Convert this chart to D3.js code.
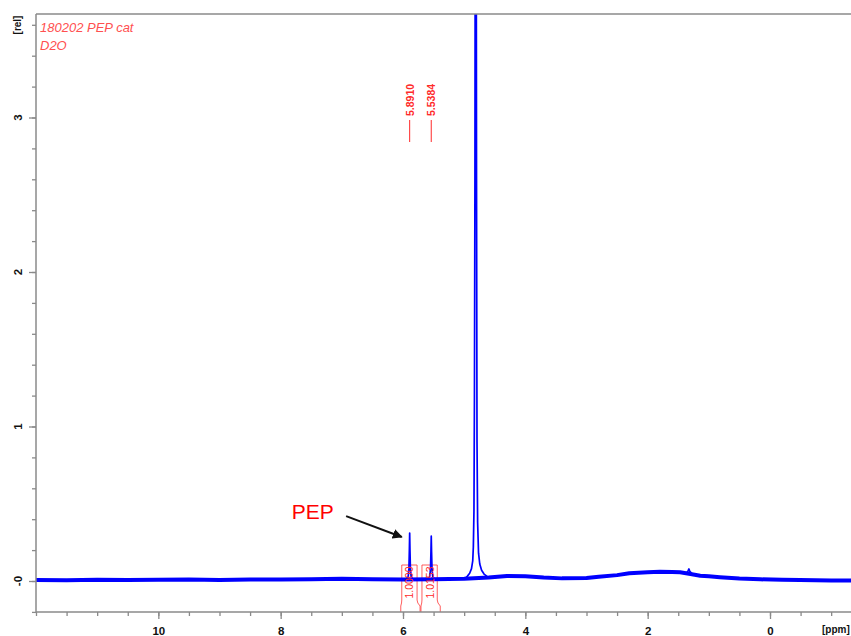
<!DOCTYPE html>
<html>
<head>
<meta charset="utf-8">
<script src="https://cdn.jsdelivr.net/npm/d3@7"></script>
<style>
  html, body { margin: 0; padding: 0; background: #fff; overflow: hidden; }
  svg { display: block; font-family: "Liberation Sans", Arial, sans-serif; }
</style>
</head>
<body>
<svg id="chart" width="851" height="636"></svg>
<script>
// ---- 1H NMR spectrum, 180202 PEP cat in D2O ----

// Baseline (broad background) of the spectrum, ppm / relative intensity
const baselinePpm = [12.2, 11.5, 11.0, 10.5, 10.0, 9.5, 9.0, 8.5, 8.0, 7.5, 7.0, 6.5, 6.0, 5.5, 5.0,
                     4.6, 4.3, 4.0, 3.7, 3.4, 3.0, 2.8, 2.5, 2.3, 2.0, 1.8, 1.6, 1.47, 1.3, 1.14,
                     1.0, 0.82, 0.5, 0.16, -0.2, -0.49, -1.0, -1.6];
const baselineRel = [0.006, 0.005, 0.008, 0.006, 0.008, 0.010, 0.007, 0.009, 0.010, 0.012, 0.015, 0.012, 0.010, 0.012, 0.014,
                     0.022, 0.032, 0.030, 0.022, 0.017, 0.020, 0.028, 0.038, 0.050, 0.057, 0.060, 0.058, 0.056, 0.045, 0.034,
                     0.030, 0.024, 0.016, 0.011, 0.008, 0.006, 0.004, 0.002];

// HOD solvent signal (runs off the top of the plot)
const waterPpm = [4.99, 4.95, 4.91, 4.88, 4.86, 4.85, 4.84, 4.832, 4.824, 4.816, 4.806, 4.798, 4.79, 4.78, 4.765, 4.745, 4.715, 4.675, 4.62];
const waterRel = [0.016, 0.030, 0.050, 0.080, 0.130, 0.220, 0.450, 1.200, 2.600, 5.500, 5.500, 2.600, 0.900, 0.380, 0.180, 0.110, 0.070, 0.045, 0.028];

// PEP vinyl protons
const pep1Ppm = [5.94, 5.915, 5.903, 5.896, 5.891, 5.886, 5.879, 5.867, 5.84];
const pep1Rel = [0.012, 0.030, 0.080, 0.200, 0.310, 0.200, 0.080, 0.030, 0.012];
const pep2Ppm = [5.585, 5.562, 5.550, 5.543, 5.538, 5.533, 5.526, 5.514, 5.49];
const pep2Rel = [0.013, 0.030, 0.080, 0.190, 0.290, 0.190, 0.080, 0.030, 0.014];

// Small signal on the broad hump
const minorPpm = [1.37, 1.34, 1.325, 1.31, 1.28];
const minorRel = [0.050, 0.065, 0.078, 0.062, 0.050];

// Peak picking and integration
const peakPpm = [5.8910, 5.5384];
const integralFrom = [6.02, 5.69];
const integralTo = [5.77, 5.44];
const integralValues = [1.0000, 1.0153];

// Axis ticks
const xMajorTicks = [10, 8, 6, 4, 2, 0];
const xMinorTicks = d3.range(24, -4, -1).map(k => k / 2);
const yMajorTicks = [0, 1, 2, 3];
const yTickLabels = ["-0", "1", "2", "3"];
const yMinorTicks = d3.range(-1, 19).map(k => k / 5);

(function draw() {
  const svg = d3.select("#chart");
  const plotLeft = 36, plotTop = 14, plotBottom = 612, plotRight = 870;

  const x = d3.scaleLinear().domain([12, 0]).range([plotLeft, 770]);
  const y = d3.scaleLinear().domain([0, 3]).range([581, 117.5]);

  const axisColor = "#8a8a8a";
  const blue = "#0000ff";
  const red = "#ff2a2a";

  const defs = svg.append("defs");
  defs.append("clipPath").attr("id", "plot")
    .append("rect").attr("x", plotLeft).attr("y", plotTop)
    .attr("width", plotRight - plotLeft).attr("height", plotBottom - plotTop);
  defs.append("marker").attr("id", "arrow")
    .attr("viewBox", "0 0 10 10").attr("refX", 9).attr("refY", 5)
    .attr("markerWidth", 5).attr("markerHeight", 5).attr("orient", "auto")
    .append("path").attr("d", "M0,0 L10,5 L0,10 z").attr("fill", "#111");

  // integral brackets, drawn behind the trace
  const integ = svg.append("g").attr("fill", "none").attr("stroke", red)
    .attr("stroke-width", 1).attr("stroke-opacity", 0.75);
  const boxTop = 565, boxBot = 600;
  integralFrom.forEach((p0, i) => {
    const x0 = x(p0), x1 = x(integralTo[i]);
    integ.append("path").attr("d",
      `M${x0 - 1},${plotBottom} L${x0 - 1},${boxBot + 6} Q${x0},${boxBot + 3} ${x0},${boxBot}` +
      ` L${x0},${boxTop} L${x1},${boxTop} L${x1},${boxBot}` +
      ` Q${x1},${boxBot + 3} ${x1 + 3},${boxBot + 6} L${x1 + 3},${plotBottom}`);
  });

  // spectrum trace
  const line = d3.line().x(d => x(d[0])).y(d => y(d[1]));
  const pairs = (p, r) => p.map((v, i) => [v, r[i]]);
  const traceG = svg.append("g").attr("clip-path", "url(#plot)")
    .attr("fill", "none").attr("stroke", blue).attr("stroke-linejoin", "round");

  traceG.append("path").datum(pairs(baselinePpm, baselineRel))
    .attr("d", line).attr("stroke-width", 4);

  [[waterPpm, waterRel], [pep1Ppm, pep1Rel], [pep2Ppm, pep2Rel], [minorPpm, minorRel]]
    .forEach(([p, r]) => {
      traceG.append("path").datum(pairs(p, r)).attr("d", line).attr("stroke-width", 1.7);
    });

  // integral values, on top of the trace
  integralFrom.forEach((p0, i) => {
    const x0 = x(p0), x1 = x(integralTo[i]);
    const cx = (x0 + x1) / 2, cy = (boxTop + boxBot) / 2;
    svg.append("text")
      .attr("x", cx).attr("y", cy)
      .attr("transform", `rotate(-90,${cx},${cy})`)
      .attr("text-anchor", "middle").attr("dominant-baseline", "central")
      .attr("font-size", 10.5).attr("fill", red)
      .text(integralValues[i].toFixed(4));
  });

  // frame
  const frame = svg.append("g").attr("stroke", axisColor).attr("stroke-width", 1.5);
  frame.append("line").attr("x1", plotLeft).attr("x2", 851).attr("y1", plotTop).attr("y2", plotTop);
  frame.append("line").attr("x1", plotLeft).attr("x2", plotLeft).attr("y1", plotTop).attr("y2", plotBottom);
  frame.append("line").attr("x1", plotLeft).attr("x2", 851).attr("y1", plotBottom).attr("y2", plotBottom);

  // x axis
  const gxMinor = svg.append("g").attr("transform", `translate(0,${plotBottom})`)
    .call(d3.axisBottom(x).tickValues(xMinorTicks).tickSize(4).tickFormat(""));
  const gxMajor = svg.append("g").attr("transform", `translate(0,${plotBottom})`)
    .call(d3.axisBottom(x).tickValues(xMajorTicks).tickSize(7).tickPadding(8).tickFormat(d => d));
  [gxMinor, gxMajor].forEach(g => {
    g.select(".domain").remove();
    g.selectAll("line").attr("stroke", axisColor).attr("stroke-width", 1.3);
  });
  gxMajor.selectAll("text").attr("font-size", 11.5).attr("font-weight", "bold")
    .attr("fill", "#111").attr("font-family", "Liberation Sans, Arial, sans-serif");
  svg.append("text").attr("x", 822).attr("y", 633)
    .attr("font-size", 10).attr("font-weight", "bold").attr("fill", "#111")
    .text("[ppm]");

  // y axis
  const gyMinor = svg.append("g").attr("transform", `translate(${plotLeft},0)`)
    .call(d3.axisLeft(y).tickValues(yMinorTicks).tickSize(4).tickFormat(""));
  const gyMajor = svg.append("g").attr("transform", `translate(${plotLeft},0)`)
    .call(d3.axisLeft(y).tickValues(yMajorTicks).tickSize(7).tickFormat(""));
  [gyMinor, gyMajor].forEach(g => {
    g.select(".domain").remove();
    g.selectAll("line").attr("stroke", axisColor).attr("stroke-width", 1.3);
  });
  svg.append("g").selectAll("text").data(yMajorTicks).join("text")
    .attr("x", 18).attr("y", d => y(d))
    .attr("transform", d => `rotate(-90,18,${y(d)})`)
    .attr("text-anchor", "middle").attr("dominant-baseline", "central")
    .attr("font-size", 11.5).attr("font-weight", "bold").attr("fill", "#111")
    .text((d, i) => yTickLabels[i]);
  svg.append("text").attr("x", 17).attr("y", 25)
    .attr("transform", "rotate(-90,17,25)")
    .attr("text-anchor", "middle").attr("dominant-baseline", "central")
    .attr("font-size", 10).attr("font-weight", "bold").attr("fill", "#111")
    .text("[rel]");

  // sample title
  svg.append("text").attr("x", 40).attr("y", 32)
    .attr("font-size", 13).attr("font-style", "italic").attr("fill", "#ff5050")
    .text("180202 PEP cat");
  svg.append("text").attr("x", 40).attr("y", 50)
    .attr("font-size", 13).attr("font-style", "italic").attr("fill", "#ff5050")
    .text("D2O");

  // peak labels
  const pl = svg.append("g");
  peakPpm.forEach(p => {
    const px = x(p);
    pl.append("line").attr("x1", px).attr("x2", px).attr("y1", 120).attr("y2", 142)
      .attr("stroke", red).attr("stroke-width", 1);
    pl.append("text").attr("x", px).attr("y", 116)
      .attr("transform", `rotate(-90,${px},116)`)
      .attr("dominant-baseline", "central")
      .attr("font-size", 10.5).attr("font-weight", "bold").attr("fill", red)
      .text(p.toFixed(4));
  });

  // PEP annotation
  svg.append("line")
    .attr("x1", x(6.93)).attr("y1", y(0.42))
    .attr("x2", x(6.02)).attr("y2", y(0.285))
    .attr("stroke", "#111").attr("stroke-width", 2)
    .attr("marker-end", "url(#arrow)");
  svg.append("text").attr("x", x(7.82)).attr("y", y(0.40))
    .attr("font-size", 21).attr("fill", "#ff0000")
    .text("PEP");
})();
</script>
</body>
</html>
